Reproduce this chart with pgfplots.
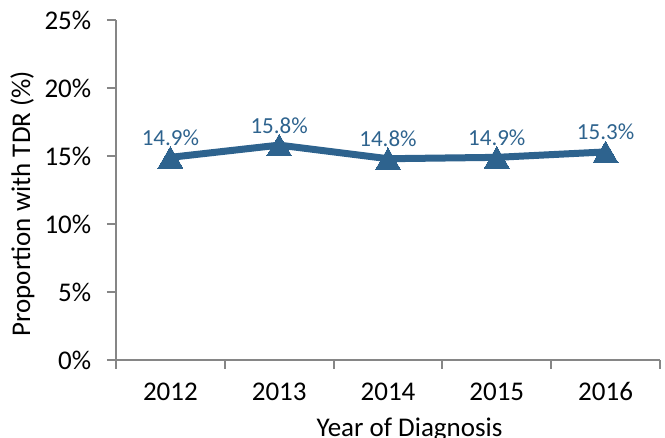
\documentclass[border=0pt]{standalone}
\usepackage{fontspec}
\setmainfont{Carlito}
\usepackage{pgfplots}
\pgfplotsset{compat=1.18}
\definecolor{lineblue}{RGB}{46,99,142}
\definecolor{axisgray}{RGB}{134,134,134}
\begin{document}
\begin{tikzpicture}
\path[use as bounding box] (-58pt,-39pt) rectangle (274.5pt,180pt);
\begin{axis}[
  at={(0,0)}, anchor=south west,
  width=272pt, height=170pt, scale only axis,
  xmin=-0.5, xmax=4.5, ymin=0, ymax=25,
  axis lines*=left,
  axis line style={draw=axisgray, line width=1pt},
  tick align=outside,
  major tick length=4.5pt,
  tick style={draw=axisgray, line width=1pt},
  xtick={0,1,2,3,4},
  xticklabels={2012,2013,2014,2015,2016},
  xtick style={draw=none},
  extra x ticks={-0.5,0.5,1.5,2.5,3.5,4.5},
  extra x tick labels={},
  extra x tick style={xtick style={draw=axisgray, line width=1pt}},
  ytick={0,5,10,15,20,25},
  yticklabel={\pgfmathprintnumber{\tick}\%},
  /pgf/number format/assume math mode=true,
  every tick label/.append style={font=\fontsize{13.5}{16}\selectfont, text=black},
  xticklabel style={anchor=base, inner sep=0pt, yshift=-15.8pt},
  yticklabel style={anchor=east, inner sep=0pt, xshift=-7.7pt},
  xlabel={Year of Diagnosis},
  ylabel={Proportion with TDR (\%)},
  xlabel style={font=\fontsize{13.5}{16}\selectfont, at={(axis description cs:0.5395,0)}, anchor=base, inner sep=0pt, yshift=-38.5pt},
  ylabel style={font=\fontsize{13.5}{16}\selectfont, at={(axis description cs:-0.195,0.46)}, anchor=north, inner sep=0pt},
  clip=false,
]
\addplot[color=lineblue, line width=3.5pt, line join=round,
  mark=triangle*, mark size=7.2pt,
  mark options={solid, line width=0pt, fill=lineblue, draw=lineblue, yshift=-1.8pt},
  nodes near coords={\pgfmathprintnumber[fixed,fixed zerofill,precision=1]{\pgfplotspointmeta}\%},
  nodes near coords style={font=\fontsize{11.5}{13}\selectfont, text=lineblue, anchor=base, inner sep=0pt, yshift=7.8pt}]
  coordinates {(0,14.9)(1,15.8)(2,14.8)(3,14.9)(4,15.3)};
\end{axis}
\end{tikzpicture}
\end{document}
